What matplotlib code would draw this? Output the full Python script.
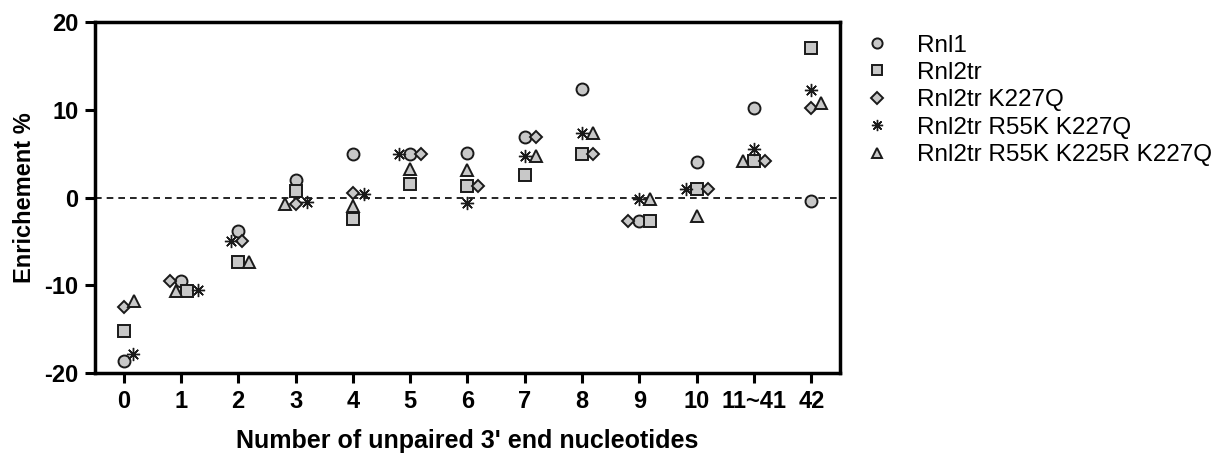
import numpy as np
import matplotlib
matplotlib.use('Agg')
import matplotlib.pyplot as plt

plt.rcParams['font.family'] = ['Liberation Sans', 'DejaVu Sans']
plt.rcParams['axes.unicode_minus'] = False

# categories on the x axis
groups = ['0', '1', '2', '3', '4', '5', '6', '7', '8', '9', '10', '11~41', '42']

# enrichment % per group
rnl1 = [-18.6, -9.5, -3.8, 2.05, 5.0, 5.0, 5.1, 6.9, 12.4, -2.7, 4.0, 10.2, -0.4]
rnl2tr = [-15.2, -10.6, -7.4, 0.7, -2.5, 1.55, 1.3, 2.6, 5.0, -2.7, 1.0, 4.2, 17.0]
rnl2tr_k227q = [-12.5, -9.5, -5.0, -0.7, 0.5, 5.0, 1.3, 6.9, 5.0, -2.7, 1.0, 4.2, 10.2]
rnl2tr_r55k_k227q = [-17.8, -10.5, -5.0, -0.5, 0.45, 5.0, -0.6, 4.7, 7.4, -0.2, 1.0, 5.5, 12.2]
rnl2tr_triple = [-11.8, -10.7, -7.4, -0.7, -1.0, 3.2, 3.1, 4.7, 7.4, -0.2, -2.1, 4.2, 10.8]

series_names = ['Rnl1', 'Rnl2tr', 'Rnl2tr K227Q', 'Rnl2tr R55K K227Q', 'Rnl2tr R55K K225R K227Q']
series_values = [rnl1, rnl2tr, rnl2tr_k227q, rnl2tr_r55k_k227q, rnl2tr_triple]

markers = ['o', 's', 'D', (8, 2, 0), '^']
msizes = [8.6, 8.0, 6.6, 9.5, 8.5]
fill = '#c8c8c8'
edge = '#1a1a1a'

fig = plt.figure(figsize=(12.27, 4.54), dpi=100)
ax = fig.add_axes([0.0774, 0.1784, 0.6072, 0.7731])
ax.set_xlim(-0.5, len(groups) - 0.5)
ax.set_ylim(-20, 20)

# simple beeswarm in pixel space so overlapping points get pushed sideways
diam = 11.0
placed = {j: [] for j in range(len(groups))}
inv = ax.transData.inverted()
handles = []
for i, vals in enumerate(series_values):
    xs = []
    for j, v in enumerate(vals):
        px0, py = ax.transData.transform((j, v))
        dx = 0
        for k in range(0, 60):
            cands = [0] if k == 0 else [k, -k]
            ok = None
            for c in cands:
                if all((px0 + c - qx) ** 2 + (py - qy) ** 2 >= diam ** 2 for qx, qy in placed[j]):
                    ok = c
                    break
            if ok is not None:
                dx = ok
                break
        placed[j].append((px0 + dx, py))
        xs.append(inv.transform((px0 + dx, py))[0])
    if i == 3:
        h, = ax.plot(xs, vals, linestyle='none', marker=markers[i], markersize=msizes[i],
                     color=edge, markeredgewidth=1.0, label=series_names[i])
    else:
        h, = ax.plot(xs, vals, linestyle='none', marker=markers[i], markersize=msizes[i],
                     markerfacecolor=fill, markeredgecolor=edge, markeredgewidth=1.4,
                     label=series_names[i])
    handles.append(h)

ax.axhline(0, color='black', linestyle=(0, (4, 3)), linewidth=1.2, zorder=0)

ax.set_xticks(range(len(groups)))
ax.set_xticklabels(groups)
ax.set_yticks([-20, -10, 0, 10, 20])
ax.tick_params(direction='out', length=7, width=2.2, labelsize=17, pad=5)
for lab in ax.get_xticklabels() + ax.get_yticklabels():
    lab.set_fontweight('bold')
for sp in ax.spines.values():
    sp.set_linewidth(2.5)

ax.set_xlabel('Number of unpaired 3\' end nucleotides', fontsize=18, fontweight='bold', labelpad=12)
ax.set_ylabel('Enrichement %', fontsize=17, fontweight='bold', labelpad=6)

leg = fig.legend(handles=handles, loc='upper left', bbox_to_anchor=(0.689, 0.972),
                 frameon=False, fontsize=17.5, labelspacing=0.22, handlelength=0.8,
                 handletextpad=1.25, markerscale=0.85)

fig.savefig('out.png', dpi=100)
